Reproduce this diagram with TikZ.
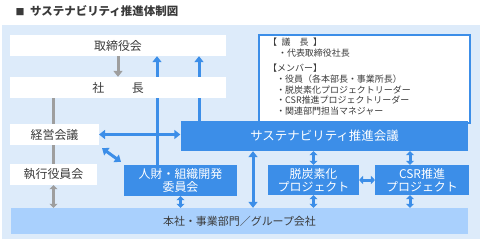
\documentclass[tikz,border=0pt]{standalone}
\usepackage{fontspec}
\setmainfont{Noto Sans CJK JP}
\usetikzlibrary{arrows.meta, positioning, calc, backgrounds}
\definecolor{bgblue}{HTML}{DDEBFA}
\definecolor{boxblue}{HTML}{3C8EE8}
\definecolor{barblue}{HTML}{A9D0FD}
\definecolor{arrgray}{HTML}{9E9E9E}
\definecolor{txtgray}{HTML}{3A3A3A}

\begin{document}
\begin{tikzpicture}[x=1bp, y=-1bp, >={Triangle[width=9bp,length=6bp]},
		whitebox/.style={fill=white, text=txtgray, inner sep=0pt, font=\fontsize{12}{14}\selectfont},
		bluebox/.style={fill=boxblue, text=white, inner sep=0pt, align=center, font=\fontsize{12}{13}\selectfont},
		blueline/.style={draw=boxblue, line width=3bp},
		grayline/.style={draw=arrgray, line width=3bp},
		shorttip/.style={>={Triangle[width=8bp,length=4bp]}}]
			\useasboundingbox (0,0) rectangle (482,241);
			
			% Title
			\node[anchor=west, text=txtgray, font=\bfseries\fontsize{11.5}{13}\selectfont] (title) at (12,11) {{\fontsize{9}{9}\selectfont■}\enspace サステナビリティ推進体制図};
			
			% Draw the boxes
			\node[whitebox, minimum width=216, minimum height=21] (torishimari) at (118,45.5) {取締役会};
			\node[whitebox, minimum width=216, minimum height=21] (shacho) at (118,87.5) {社\hspace{2.3em}長};
			\node[whitebox, minimum width=89, minimum height=21] (keiei) at (54.5,134.5) {経営会議};
			\node[whitebox, minimum width=87, minimum height=21] (shikko) at (53.5,174.5) {執行役員会};
			
			% Members list
			\node[draw=boxblue, line width=2bp, fill=white, minimum width=212, minimum height=88, anchor=north west, inner sep=0pt] (info) at (258,34) {};
			\node[anchor=north west, align=left, text=txtgray, inner sep=0pt, font=\fontsize{9}{10.6}\selectfont] (members) at (268,38) {%
				【\enspace 議\quad 長\enspace】\\
				\hspace{1.1em}・代表取締役社長\\[5bp]
				【メンバー】\\
				\hspace{0.9em}・役員（各本部長・事業所長）\\
				\hspace{0.9em}・脱炭素化プロジェクトリーダー\\
				\hspace{0.9em}・CSR推進プロジェクトリーダー\\
				\hspace{0.9em}・関連部門担当マネジャー};
			
			\node[bluebox, minimum width=289, minimum height=30, font=\fontsize{12.5}{14}\selectfont] (suishin) at (324.5,136) {サステナビリティ推進会議};
			\node[bluebox, minimum width=113, minimum height=31] (jinzai) at (180.5,180.5) {人財・組織開発\\委員会};
			\node[bluebox, minimum width=91, minimum height=30] (datsu) at (313.5,180) {脱炭素化\\プロジェクト};
			\node[bluebox, minimum width=94, minimum height=30] (csr) at (422,180) {CSR推進\\プロジェクト};
			\node[fill=barblue, text=txtgray, inner sep=0pt, minimum width=459, minimum height=26, font=\fontsize{11}{13}\selectfont] (bar) at (239.5,221) {本社・事業部門／グループ会社};
			
			\coordinate (lineA) at (157,0);
			\coordinate (lineB) at (199,0);
			\coordinate (lineC) at (253,0);
			\coordinate (lineD) at (410,0);
			
			\begin{scope}[on background layer]
				\fill[white] (0,0) rectangle (482,241);
				\fill[bgblue] (2,25) rectangle (480,239);
				
				% Gray connectors
				\draw[grayline, ->] (torishimari) -- (shacho);
				\draw[grayline] (shacho.south -| shikko.north) -- (shikko.north);
				\draw[grayline, <->, shorttip] (shikko.south) -- (shikko.south |- bar.north);
				
				% Blue connectors
				\draw[blueline, ->] (jinzai.north -| lineA) -- (torishimari.south -| lineA);
				\draw[blueline, ->] (suishin.north -| lineB) -- (torishimari.south -| lineB);
				\draw[blueline, <->] (keiei.east) -- (keiei.east -| suishin.west);
				\draw[blueline, <->] ([shift={(3,3)}]keiei.south east) -- ([shift={(-3,-3)}]jinzai.north west);
				\draw[blueline, <->] (suishin.south -| lineC) -- (bar.north -| lineC);
				\draw[blueline, <->, shorttip] (jinzai.south) -- (jinzai.south |- bar.north);
				\draw[blueline, <->, shorttip] (datsu.north) -- (datsu.north |- suishin.south);
				\draw[blueline, <->, shorttip] (datsu.south) -- (datsu.south |- bar.north);
				\draw[blueline, <->, shorttip] (csr.north -| lineD) -- (suishin.south -| lineD);
				\draw[blueline, <->, shorttip] (csr.south -| lineD) -- (bar.north -| lineD);
				\draw[blueline, <->, shorttip] (datsu.east) -- (csr.west);
			\end{scope}
			
		\end{tikzpicture}
\end{document}
